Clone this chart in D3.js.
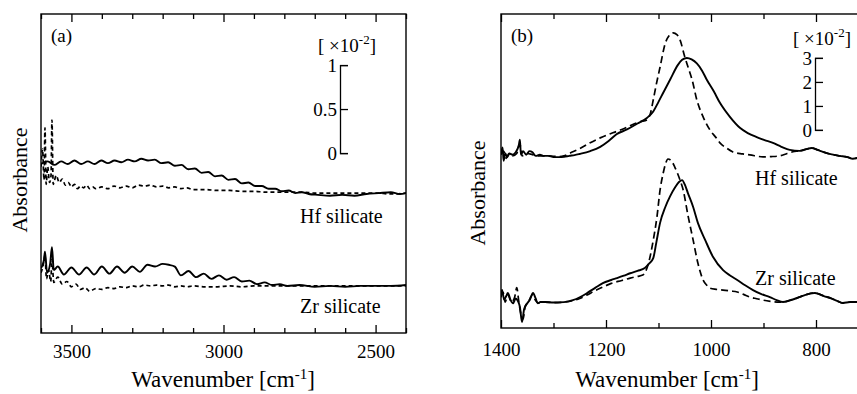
<!DOCTYPE html>
<html>
<head>
<meta charset="utf-8">
<script src="https://cdn.jsdelivr.net/npm/d3@7"></script>
<style>
  body { margin: 0; background: #fff; }
  text { font-family: "Liberation Serif", "Times New Roman", serif; fill: #000; }
</style>
</head>
<body>
<svg id="chart" width="857" height="394"></svg>
<script>
// ---- Panel (a): O-H / high-wavenumber region, absorbance in units of 1e-2 ----
const hfSolidA = [[3600,0.33],[3578,0.36],[3556,0.32],[3534,0.36],[3512,0.33],[3490,0.37],[3468,0.33],[3446,0.36],[3424,0.33],[3402,0.37],[3380,0.34],[3358,0.37],[3336,0.35],[3314,0.38],[3292,0.36],[3270,0.39],[3248,0.37],[3226,0.38],[3204,0.34],[3182,0.35],[3160,0.31],[3138,0.32],[3116,0.27],[3094,0.28],[3072,0.23],[3050,0.24],[3028,0.19],[3006,0.20],[2984,0.15],[2962,0.16],[2940,0.11],[2918,0.12],[2896,0.08],[2874,0.08],[2852,0.05],[2830,0.05],[2808,0.02],[2786,0.03],[2764,0.00],[2742,0.01],[2720,-0.01],[2690,-0.02],[2650,-0.03],[2610,-0.02],[2570,-0.03],[2530,-0.01],[2490,0.0],[2450,0.01],[2420,-0.01],[2400,0.0]];
const hfDashedA = [[3600,0.30],[3595,0.50],[3590,0.15],[3587,0.74],[3583,0.10],[3578,0.30],[3572,0.12],[3567,0.20],[3564,0.83],[3560,0.10],[3550,0.20],[3540,0.12],[3530,0.16],[3520,0.09],[3510,0.12],[3500,0.07],[3490,0.10],[3480,0.05],[3470,0.08],[3460,0.06],[3450,0.09],[3440,0.05],[3430,0.07],[3420,0.05],[3400,0.07],[3380,0.05],[3360,0.08],[3340,0.06],[3320,0.08],[3300,0.06],[3280,0.09],[3260,0.08],[3240,0.09],[3220,0.07],[3200,0.08],[3180,0.06],[3160,0.07],[3140,0.05],[3120,0.06],[3100,0.04],[3060,0.04],[3020,0.03],[2980,0.03],[2940,0.02],[2900,0.02],[2860,0.01],[2820,0.01],[2780,0.01],[2740,0.01],[2700,0.0],[2650,0.0],[2600,0.0],[2550,0.0],[2500,0.0],[2450,-0.01],[2400,0.0]];
const zrSolidA = [[3600,0.20],[3590,0.30],[3587,0.39],[3580,0.15],[3570,0.25],[3564,0.44],[3558,0.18],[3545,0.22],[3525,0.13],[3500,0.21],[3475,0.13],[3450,0.21],[3425,0.13],[3400,0.22],[3375,0.14],[3350,0.22],[3325,0.15],[3300,0.22],[3275,0.16],[3250,0.24],[3225,0.22],[3200,0.25],[3180,0.24],[3160,0.22],[3140,0.12],[3115,0.17],[3090,0.10],[3065,0.14],[3040,0.08],[3015,0.12],[2990,0.07],[2965,0.10],[2940,0.05],[2915,0.06],[2890,0.02],[2865,0.04],[2840,0.01],[2815,0.02],[2790,0.0],[2750,0.01],[2700,-0.01],[2650,0.0],[2600,-0.01],[2550,0.0],[2500,0.0],[2450,0.0],[2400,0.01]];
const zrDashedA = [[3600,0.15],[3592,0.25],[3587,0.35],[3582,0.08],[3575,0.18],[3568,0.05],[3564,0.30],[3558,0.04],[3545,0.10],[3530,0.02],[3515,0.05],[3500,-0.01],[3485,0.02],[3470,-0.04],[3455,-0.02],[3440,-0.06],[3420,-0.03],[3400,-0.04],[3380,-0.02],[3360,-0.03],[3340,-0.01],[3320,-0.02],[3300,0.0],[3280,-0.01],[3260,0.01],[3240,0.0],[3220,0.01],[3200,0.0],[3180,0.01],[3160,-0.01],[3140,0.0],[3120,-0.01],[3100,0.0],[3060,-0.01],[3020,-0.01],[2980,0.0],[2940,-0.01],[2900,0.0],[2860,0.0],[2800,0.0],[2700,0.0],[2600,0.0],[2500,0.0],[2400,0.0]];

// ---- Panel (b): Si-O stretching region, absorbance in units of 1e-2 ----
const hfSolidB = [[1400,0.1],[1397,0.35],[1395,-0.2],[1392,0.1],[1388,-0.05],[1384,0.1],[1378,0.05],[1372,0.15],[1366,0.45],[1364,0.67],[1362,0.05],[1358,0.2],[1352,0.05],[1346,0.2],[1340,0.15],[1334,0.0],[1326,0.05],[1318,0.0],[1310,0.0],[1300,-0.05],[1290,-0.05],[1280,-0.04],[1270,0.0],[1260,0.03],[1250,0.08],[1230,0.2],[1211,0.375],[1195,0.62],[1180,0.9],[1160,1.1],[1140,1.35],[1122,1.58],[1110,1.85],[1100,2.25],[1091,2.63],[1078,3.17],[1063,3.79],[1055,4.0],[1046,4.08],[1037,4.02],[1027,3.85],[1017,3.55],[1008,3.17],[995,2.7],[983,2.21],[964,1.625],[945,1.17],[930,0.95],[914,0.79],[898,0.66],[882,0.54],[866,0.38],[850,0.25],[831,0.21],[820,0.27],[808,0.33],[797,0.25],[787,0.17],[770,0.06],[755,0.0],[740,-0.05],[730,-0.12],[720,-0.08]];
const hfDashedB = [[1400,0.05],[1395,0.2],[1390,-0.1],[1385,0.1],[1378,0.0],[1370,0.1],[1364,0.5],[1360,0.0],[1350,0.1],[1340,0.05],[1330,0.0],[1310,0.0],[1290,-0.03],[1280,0.0],[1268,0.12],[1250,0.3],[1230,0.55],[1211,0.75],[1187,0.96],[1170,1.1],[1150,1.3],[1135,1.42],[1122,1.5],[1115,1.8],[1110,2.33],[1104,3.0],[1097,3.7],[1087,4.7],[1080,5.0],[1072,5.125],[1065,5.05],[1059,4.83],[1050,4.13],[1043,3.65],[1036,3.17],[1027,2.33],[1015,1.625],[1002,1.08],[990,0.75],[983,0.54],[970,0.32],[959,0.17],[940,0.08],[926,0.04],[901,-0.04],[885,-0.03],[869,0.0],[855,0.1],[844,0.17],[831,0.21],[820,0.27],[808,0.33],[797,0.25],[787,0.17],[770,0.06],[755,0.0],[740,-0.05],[730,-0.12],[720,-0.08]];
const zrSolidB = [[1400,0.3],[1398,0.5],[1394,0.1],[1390,0.25],[1387,0.38],[1382,0.1],[1377,-0.05],[1372,0.15],[1368,0.05],[1364,-0.2],[1360,-0.83],[1356,-0.3],[1350,-0.05],[1345,0.1],[1339,0.375],[1334,0.15],[1330,-0.05],[1325,0.0],[1316,0.0],[1300,-0.02],[1280,0.0],[1263,0.08],[1250,0.2],[1236,0.375],[1220,0.6],[1206,0.79],[1190,0.92],[1179,1.0],[1166,1.1],[1154,1.2],[1140,1.3],[1126,1.42],[1118,1.6],[1110,1.83],[1104,2.5],[1097,3.3],[1087,3.96],[1078,4.4],[1068,4.79],[1061,5.0],[1055,5.08],[1050,4.9],[1044,4.54],[1034,3.96],[1025,3.3],[1011,2.58],[996,1.875],[977,1.33],[963,1.1],[950,0.92],[935,0.7],[920,0.5],[904,0.33],[888,0.21],[875,0.08],[863,0.0],[850,0.07],[836,0.17],[820,0.3],[810,0.36],[802,0.375],[795,0.34],[785,0.25],[773,0.17],[760,0.05],[749,-0.04],[735,0.0],[720,0.0]];
const zrDashedB = [[1400,0.2],[1396,0.4],[1392,0.0],[1387,0.3],[1380,0.0],[1374,0.2],[1370,0.6],[1366,0.0],[1362,-0.5],[1358,-0.7],[1354,-0.2],[1348,0.0],[1340,0.3],[1335,0.1],[1328,-0.05],[1316,0.0],[1300,-0.02],[1280,0.0],[1263,0.06],[1250,0.15],[1236,0.3],[1220,0.48],[1206,0.625],[1190,0.78],[1170,0.9],[1154,1.0],[1140,1.07],[1130,1.125],[1120,1.54],[1110,2.58],[1103,3.54],[1097,4.67],[1091,5.375],[1086,5.8],[1082,5.96],[1076,5.9],[1069,5.625],[1059,5.08],[1053,4.67],[1044,3.625],[1034,2.58],[1025,1.625],[1015,0.92],[1008,0.7],[1002,0.58],[990,0.53],[977,0.5],[963,0.46],[950,0.42],[938,0.32],[926,0.21],[913,0.14],[901,0.08],[887,0.03],[874,0.0],[863,0.0],[850,0.07],[836,0.17],[820,0.3],[810,0.36],[802,0.375],[795,0.34],[785,0.25],[773,0.17],[760,0.05],[749,-0.04],[735,0.0],[720,0.0]];

// Vertical stacking offsets (same units) and tick values
const offsetsA = { hf: -0.455, zr: -1.51 };
const offsetsB = { hf: -1.08, zr: -7.17 };
const majorTicksA = [3500, 3000, 2500];
const minorTicksA = [3600, 3400, 3300, 3200, 3100, 2900, 2800, 2700, 2600, 2400];
const majorTicksB = [1400, 1200, 1000, 800];
const minorTicksB = [1300, 1100, 900];
const scaleTicksA = [0, 0.5, 1];
const scaleTicksB = [0, 1, 2, 3];
const sampleNames = ["Hf silicate", "Zr silicate"];

const FONT = '"Liberation Serif", "Times New Roman", serif';
const svg = d3.select("#chart");

function drawPanel(p) {
  const x = d3.scaleLinear().domain(p.xDomain).range([p.left, p.right]);
  const y = d3.scaleLinear().domain(p.yDomain).range([p.bottom, p.top]);
  const g = svg.append("g");

  const clipId = "clip-" + p.id;
  svg.append("clipPath").attr("id", clipId)
    .append("rect").attr("x", p.left).attr("y", p.top)
    .attr("width", p.right - p.left).attr("height", p.bottom - p.top);

  // spectra
  const line = (off) => d3.line()
    .x(d => x(d[0])).y(d => y(d[1] + off))
    .curve(d3.curveMonotoneX);
  const plot = g.append("g").attr("clip-path", `url(#${clipId})`);
  p.series.forEach(s => {
    plot.append("path").datum(s.data)
      .attr("d", line(s.offset))
      .attr("fill", "none").attr("stroke", "#000")
      .attr("stroke-width", s.dashed ? 1.7 : 1.9)
      .attr("stroke-dasharray", s.dashed ? p.dash : null)
      .attr("stroke-linejoin", "round");
  });

  // frame
  g.append("rect").attr("x", p.left).attr("y", p.top)
    .attr("width", p.right - p.left).attr("height", p.bottom - p.top)
    .attr("fill", "none").attr("stroke", "#000").attr("stroke-width", 1.4);

  // inward ticks on bottom and top edges
  const addTicks = (axisFn, ypos, vals, size) => {
    g.append("g").attr("transform", `translate(0,${ypos})`)
      .call(axisFn(x).tickValues(vals).tickSizeInner(-size).tickSizeOuter(0).tickFormat(""))
      .call(a => a.select(".domain").remove())
      .call(a => a.selectAll("line").attr("stroke-width", 1.3));
  };
  addTicks(d3.axisBottom, p.bottom, p.major, 8);
  addTicks(d3.axisBottom, p.bottom, p.minor, 5);
  addTicks(d3.axisTop, p.top, p.major, 8);
  addTicks(d3.axisTop, p.top, p.minor, 5);

  // tick labels
  g.append("g").attr("transform", `translate(0,${p.bottom})`)
    .call(d3.axisBottom(x).tickValues(p.major).tickSize(0).tickPadding(p.labelPad).tickFormat(d3.format("d")))
    .call(a => a.select(".domain").remove())
    .call(a => a.selectAll("text").attr("font-size", 19).attr("fill", "#000"));

  // x title
  const xt = g.append("text").attr("x", p.titleX).attr("y", 387)
    .attr("text-anchor", "middle").attr("font-size", 23);
  xt.append("tspan").text("Wavenumber [cm");
  xt.append("tspan").attr("font-size", 15).attr("dy", -8).text("-1");
  xt.append("tspan").attr("dy", 8).text("]");

  // y title
  g.append("text").attr("transform", `translate(${p.yTitleX},${p.yTitleY}) rotate(-90)`)
    .attr("text-anchor", "middle").attr("font-size", 22).text("Absorbance");

  // panel letter
  g.append("text").attr("x", p.left + 10).attr("y", 42).attr("font-size", 19).text(p.letter);

  // sample names
  p.names.forEach((n, i) => {
    g.append("text").attr("x", p.nameX).attr("y", p.nameY[i]).attr("font-size", 20).text(n);
  });

  // absorbance scale bar, drawn with the panel's own vertical scale
  const barMax = d3.max(p.barTicks);
  const barScale = d3.scaleLinear().domain([0, barMax]).range([y(0), y(barMax)]);
  g.append("g").attr("transform", `translate(${p.barX},0)`)
    .call(d3.axisLeft(barScale).tickValues(p.barTicks).tickSizeInner(-8).tickSizeOuter(-8).tickPadding(3)
      .tickFormat(d3.format("~g")))
    .call(a => a.selectAll("path,line").attr("stroke-width", 1.3))
    .call(a => a.selectAll("text").attr("font-size", 19).attr("fill", "#000"));
  const ut = g.append("text").attr("x", p.barX + 7).attr("y", p.unitY)
    .attr("text-anchor", "middle").attr("font-size", 19);
  ut.append("tspan").text("[ \u00d710");
  ut.append("tspan").attr("font-size", 13).attr("dy", -8).text("-2");
  ut.append("tspan").attr("dy", 8).text("]");
}

drawPanel({
  id: "a", letter: "(a)",
  left: 41, right: 406, top: 14, bottom: 333, titleX: 223,
  xDomain: [3600, 2400], yDomain: [-2.045, 1.58],
  major: majorTicksA, minor: minorTicksA, labelPad: 12,
  dash: "4,3",
  series: [
    { data: hfSolidA, offset: offsetsA.hf, dashed: false },
    { data: hfDashedA, offset: offsetsA.hf, dashed: true },
    { data: zrSolidA, offset: offsetsA.zr, dashed: false },
    { data: zrDashedA, offset: offsetsA.zr, dashed: true }
  ],
  yTitleX: 27, yTitleY: 180,
  names: sampleNames, nameX: 300, nameY: [223, 313],
  barX: 340, barTicks: scaleTicksA, unitY: 52
});

drawPanel({
  id: "b", letter: "(b)",
  left: 501, right: 858, top: 14, bottom: 328, titleX: 667,
  xDomain: [1400, 720], yDomain: [-8.25, 4.83],
  major: majorTicksB, minor: minorTicksB, labelPad: 15,
  dash: "7,4",
  series: [
    { data: hfSolidB, offset: offsetsB.hf, dashed: false },
    { data: hfDashedB, offset: offsetsB.hf, dashed: true },
    { data: zrSolidB, offset: offsetsB.zr, dashed: false },
    { data: zrDashedB, offset: offsetsB.zr, dashed: true }
  ],
  yTitleX: 485, yTitleY: 193,
  names: sampleNames, nameX: 755, nameY: [185, 285],
  barX: 815, barTicks: scaleTicksB, unitY: 45
});

// one serif face for every label
svg.selectAll("text").style("font-family", FONT);
</script>
</body>
</html>
